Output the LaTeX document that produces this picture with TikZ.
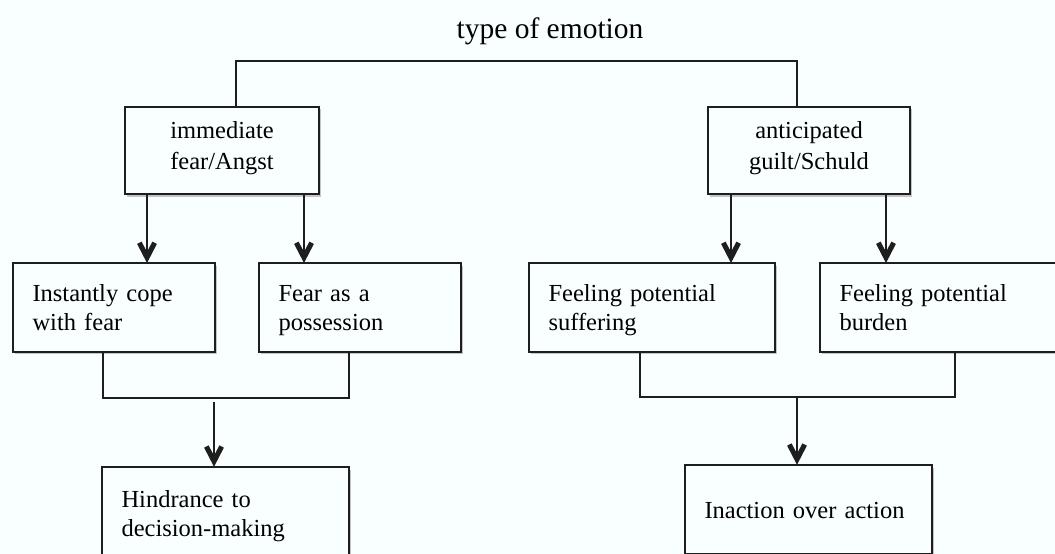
\documentclass[tikz,border=0pt]{standalone}
\usepackage{fontspec}
\setmainfont{Liberation Serif}
\usetikzlibrary{arrows.meta,shadows}
\definecolor{bgc}{HTML}{F9FEFF}
\definecolor{ink}{HTML}{1E1E1E}
\pgfdeclarearrow{
  name=Chev,
  setup code={
    \pgfarrowssettipend{0pt}
    \pgfarrowssetlineend{-6pt}
    \pgfarrowssetvisualbackend{-20.9pt}
    \pgfarrowssetbackend{-20.9pt}
    \pgfarrowshullpoint{0pt}{0pt}
    \pgfarrowshullpoint{-20.9pt}{10pt}
    \pgfarrowshullpoint{-20.9pt}{-10pt}
  },
  drawing code={
    \pgfsetfillcolor{ink}
    \pgfpathmoveto{\pgfqpoint{0.6pt}{0pt}}
    \pgfpathlineto{\pgfqpoint{-18.5pt}{9.86pt}}
    \pgfpathlineto{\pgfqpoint{-20.85pt}{5.45pt}}
    \pgfpathlineto{\pgfqpoint{-10.6pt}{0pt}}
    \pgfpathlineto{\pgfqpoint{-20.85pt}{-5.45pt}}
    \pgfpathlineto{\pgfqpoint{-18.5pt}{-9.86pt}}
    \pgfpathclose
    \pgfusepathqfill
  }
}
\tikzset{
  box/.style={draw=ink, line width=1.6pt, fill=bgc, rectangle, inner ysep=0pt,
    drop shadow={shadow xshift=1.5pt, shadow yshift=-2.5pt, fill=black, opacity=0.22}},
  lbox/.style={box, inner xsep=19.5pt, align=left, font=\fontsize{24.5}{28.3}\selectfont,
    execute at begin node={\rule[-5pt]{0pt}{27pt}},
    execute at end node={\rule[-5pt]{0pt}{27pt}}},
  cbox/.style={box, inner xsep=5pt, align=center, font=\fontsize{24.5}{29}\selectfont,
    execute at begin node={\rule[-11.4pt]{0pt}{29.4pt}},
    execute at end node={\rule[-11.4pt]{0pt}{29.4pt}}},
  conn/.style={draw=ink, line width=1.6pt},
  arr/.style={conn, -{Chev}},
}
\begin{document}
\begin{tikzpicture}[x=1pt,y=-1pt]
\clip (0,0) rectangle (1055,554);
\fill[bgc] (0,0) rectangle (1055,554);
% title
\node[font=\fontsize{29.5}{34}\selectfont, anchor=base] (title) at (550,38) {type of emotion};
% top boxes
\node[cbox, minimum width=194pt, minimum height=87.5pt, text width=184pt] (imm) at (222,150.5) {immediate\\fear/Angst};
\node[cbox, minimum width=202pt, minimum height=87.5pt, text width=192pt] (ant) at (809,150.5) {anticipated\\guilt/Schuld};
% middle boxes
\node[lbox, minimum width=202pt, minimum height=88.5pt, text width=163pt] (b1) at (114,307.5) {Instantly cope\\with fear};
\node[lbox, minimum width=202pt, minimum height=88.5pt, text width=163pt] (b2) at (360,307.5) {Fear as a\\possession};
\node[lbox, minimum width=246pt, minimum height=88.5pt, text width=207pt] (b3) at (652,307.5) {Feeling potential\\suffering};
\node[lbox, minimum width=246pt, minimum height=88.5pt, text width=207pt] (b4) at (943,307.5) {Feeling potential\\burden};
% bottom boxes
\node[lbox, minimum width=247pt, minimum height=93pt, text width=208pt] (h) at (225.5,513.5) {Hindrance to\\decision-making};
\node[lbox, minimum width=247pt, minimum height=89pt, text width=208pt] (ia) at (808.5,509.5) {Inaction over action};
% coordinates
\coordinate (tl) at (236,61);
\coordinate (tr) at (797,61);
\coordinate (xa) at (147,0);
\coordinate (xb) at (304,0);
\coordinate (xc) at (731,0);
\coordinate (xd) at (886,0);
\coordinate (ll) at (103,398);
\coordinate (lr) at (349,398);
\coordinate (lm) at (214,402);
\coordinate (rl) at (640,397);
\coordinate (rr) at (955,397);
\coordinate (rm) at (797,397);
% top bracket
\draw[conn] (imm.north -| tl) -- (tl) -- (tr) -- (ant.north -| tr);
% arrows from top boxes
\draw[arr] (imm.south -| xa) -- (b1.north -| xa);
\draw[arr] (imm.south -| xb) -- (b2.north -| xb);
\draw[arr] (ant.south -| xc) -- (b3.north -| xc);
\draw[arr] (ant.south -| xd) -- (b4.north -| xd);
% lower brackets
\draw[conn] (b1.south -| ll) -- (ll) -- (lr) -- (b2.south -| lr);
\draw[arr] (lm) -- (h.north -| lm);
\draw[conn] (b3.south -| rl) -- (rl) -- (rr) -- (b4.south -| rr);
\draw[arr] (rm) -- (ia.north -| rm);
\end{tikzpicture}
\end{document}
